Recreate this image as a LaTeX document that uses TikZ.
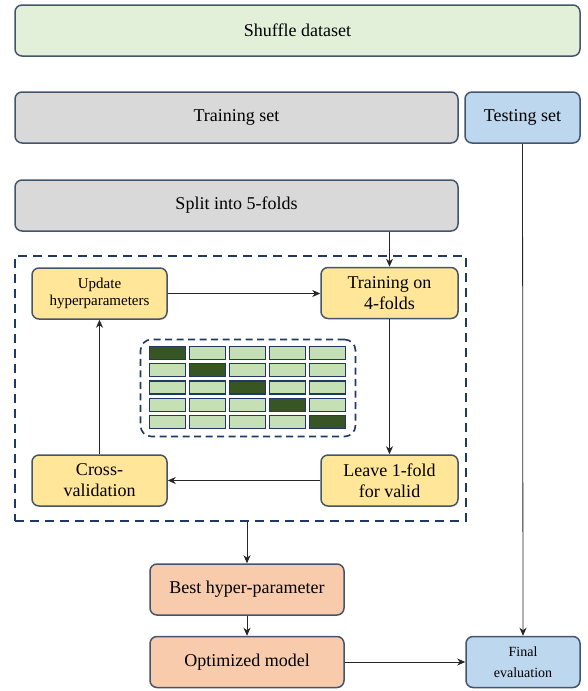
\documentclass[tikz,border=0pt]{standalone}
\usepackage{fontspec}
\setmainfont{Liberation Serif}
\newfontfamily\tfont{Liberation Serif}
\usetikzlibrary{arrows.meta}
\definecolor{boxline}{HTML}{44546A}
\definecolor{navy}{HTML}{203864}
\definecolor{cgreen}{HTML}{E2F0D9}
\definecolor{cgray}{HTML}{D9D9D9}
\definecolor{cblue}{HTML}{BDD7EE}
\definecolor{cyellow}{HTML}{FFE699}
\definecolor{corange}{HTML}{F8CBAD}
\definecolor{darkcell}{HTML}{375623}
\definecolor{lightcell}{HTML}{C5E0B4}
\definecolor{cellline}{HTML}{1F3864}
\tikzset{
  box/.style={rectangle, rounded corners=7pt, draw=boxline, line width=1.5pt,
    inner sep=0pt, align=center, minimum height=51pt,
    font=\tfont\fontsize{18}{21}\selectfont},
  smalltext/.style={font=\tfont\fontsize{15}{17}\selectfont},
  finaltext/.style={font=\tfont\fontsize{14}{21}\selectfont},
  outerbox/.style={rectangle, draw=navy, line width=2.2pt, dash pattern=on 9pt off 6pt, inner sep=0pt},
  innerbox/.style={rectangle, rounded corners=11pt, draw=navy, line width=1.6pt, dash pattern=on 7pt off 4.5pt, inner sep=0pt},
  cell/.style={rectangle, draw=cellline, line width=1.3pt, inner sep=0pt, minimum width=36pt, minimum height=13pt},
  conn/.style={draw=black!85, line width=0.8pt, -{Stealth[length=8pt,width=7pt,inset=2.5pt]}}
}
\begin{document}
\begin{tikzpicture}[x=1pt,y=-1pt]
\useasboundingbox (0,0) rectangle (587,691);

\node[box, fill=cgreen, minimum width=565pt] (shuffle) at (297.5,30.5) {Shuffle dataset};
\node[box, fill=cgray, minimum width=443pt] (trainset) at (236.5,117.5) {Training set};
\node[box, fill=cblue, minimum width=115pt] (testset) at (522.5,117.5) {Testing set};
\node[box, fill=cgray, minimum width=443pt] (split) at (236.5,205.5) {Split into 5-folds};

\node[outerbox, minimum width=451pt, minimum height=265pt] (outer) at (240.5,388.5) {};

\node[box, fill=cyellow, minimum width=135pt, smalltext] (update) at (99.5,293.5) {Update\\hyperparameters};
\node[box, fill=cyellow, minimum width=137pt] (train4) at (389.5,293) {Training on\\4-folds};
\node[box, fill=cyellow, minimum width=137pt] (leave) at (389.5,480.5) {Leave 1-fold\\for valid};
\node[box, fill=cyellow, minimum width=135pt] (cross) at (99.5,480.5) {Cross-\\validation};

\node[innerbox, minimum width=215pt, minimum height=97pt] (inner) at (248,388) {};
\foreach \r in {0,...,4}{
  \foreach \c in {0,...,4}{
    \ifnum\r=\c
      \node[cell, fill=darkcell] (cell\r\c) at (167.5+40*\c, 353+17.25*\r) {};
    \else
      \node[cell, fill=lightcell] (cell\r\c) at (167.5+40*\c, 353+17.25*\r) {};
    \fi
  }
}

\node[box, fill=corange, minimum width=194pt] (best) at (247,589.5) {Best hyper-parameter};
\node[box, fill=corange, minimum width=194pt] (optim) at (247,662) {Optimized model};
\node[box, fill=cblue, minimum width=114pt, finaltext] (final) at (523,662) {Final\\evaluation};

\draw[conn] (split.south -| train4.north) -- (train4.north);
\draw[conn] (testset.south) -- (final.north);
\draw[conn] (update.east) -- (update.east -| train4.west);
\draw[conn] (train4.south) -- (leave.north);
\draw[conn] (leave.west) -- (leave.west -| cross.east);
\draw[conn] (cross.north) -- (update.south);
\draw[conn] (outer.south -| best.north) -- (best.north);
\draw[conn] (best.south) -- (optim.north);
\draw[conn] (optim.east) -- (optim.east -| final.west);
\end{tikzpicture}
\end{document}
